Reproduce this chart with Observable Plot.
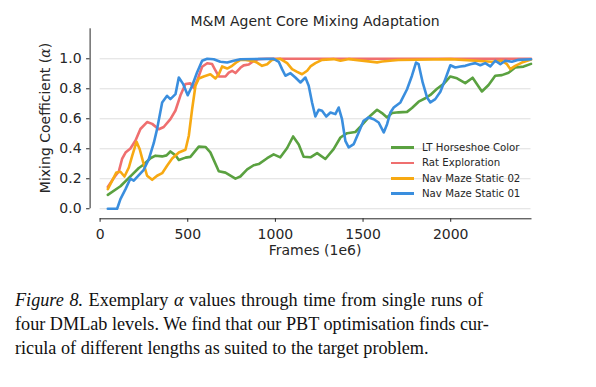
<!DOCTYPE html>
<html>
<head>
<meta charset="utf-8">
<script src="https://cdn.jsdelivr.net/npm/d3@7"></script>
<script src="https://cdn.jsdelivr.net/npm/@observablehq/plot@0.6"></script>
<style>
  html, body { margin: 0; padding: 0; background: #fff; }
  #wrap { position: relative; width: 596px; height: 387px; overflow: hidden; background: #fff; font-family: "DejaVu Sans", sans-serif; color: #262626; }
  #chart { position: absolute; left: 0; top: 0; }
  .abs { position: absolute; white-space: nowrap; }
  #title { left: 99.6px; width: 431px; top: 13px; text-align: center; font-size: 14px; line-height: 16px; }
  #xlabel { left: 99.6px; width: 431px; top: 242px; text-align: center; font-size: 14px; line-height: 16px; }
  #ylabel { left: -55px; width: 200px; top: 110.3px; text-align: center; font-size: 14px; line-height: 16px; transform: rotate(-90deg); transform-origin: 100px 8px; }
  #legend { left: 391px; top: 140px; font-size: 10.2px; }
  .row { height: 15.3px; display: flex; align-items: center; }
  .sw { width: 23px; height: 2.6px; margin-right: 8px; }
  #caption { left: 15px; top: 288px; font-family: "Liberation Serif", "Times New Roman", serif; font-size: 18.2px; color: #111; }
  .cl { line-height: 24px; text-align: justify; text-align-last: justify; }
</style>
</head>
<body>
<div id="wrap">
  <div id="chart"></div>
  <div id="title" class="abs"></div>
  <div id="xlabel" class="abs"></div>
  <div id="ylabel" class="abs"></div>
  <div id="legend" class="abs"></div>
  <div id="caption" class="abs"></div>
</div>
<script>
// ---------- data ----------
const seriesNames = ["LT Horseshoe Color", "Rat Exploration", "Nav Maze Static 02", "Nav Maze Static 01"];
const palette = ["#5aa140", "#ef6f6f", "#f7a912", "#3a8ede"];

const horseshoeFrames = [44,116,183,221,249,287,316,354,379,401,430,449,487,515,563,601,629,677,715,772,800,839,876,905,953,990,1028,1067,1101,1133,1161,1200,1238,1285,1332,1371,1409,1456,1485,1532,1580,1608,1637,1665,1703,1751,1779,1817,1855,1884,1922,1960,1998,2036,2083,2125,2178,2216,2254,2292,2330,2368,2416,2458];
const horseshoeAlpha  = [0.093,0.150,0.228,0.272,0.295,0.337,0.354,0.349,0.356,0.382,0.356,0.325,0.341,0.346,0.414,0.412,0.376,0.250,0.241,0.201,0.215,0.262,0.290,0.298,0.337,0.363,0.343,0.405,0.482,0.428,0.347,0.343,0.371,0.332,0.398,0.475,0.504,0.512,0.547,0.610,0.660,0.638,0.609,0.638,0.643,0.646,0.672,0.714,0.737,0.759,0.800,0.833,0.882,0.870,0.838,0.874,0.782,0.825,0.887,0.891,0.907,0.942,0.948,0.966];

const ratFrames = [44,78,107,126,145,173,202,230,268,297,335,363,401,430,458,487,515,534,553,582,611,639,658,677,715,734,753,772,800,819,848,876,905,950,1200,1500,1800,2100,2458];
const ratAlpha  = [0.145,0.205,0.250,0.335,0.375,0.402,0.455,0.532,0.578,0.566,0.530,0.545,0.598,0.655,0.755,0.832,0.836,0.806,0.853,0.947,0.970,0.965,0.922,0.882,0.882,0.908,0.920,0.905,0.940,0.956,0.962,0.986,0.998,1.0,1.0,1.0,1.0,1.0,1.0];

const maze02Frames = [44,69,93,116,139,164,183,208,226,246,268,297,325,354,382,411,449,487,506,525,544,563,591,629,658,677,696,725,753,782,800,829,877,895,924,953,981,1028,1067,1095,1124,1152,1181,1200,1228,1266,1332,1371,1420,1580,1608,1700,2000,2235,2292,2321,2340,2368,2406,2458];
const maze02Alpha  = [0.131,0.187,0.242,0.247,0.215,0.275,0.353,0.447,0.397,0.309,0.220,0.193,0.220,0.237,0.287,0.335,0.375,0.393,0.487,0.664,0.820,0.869,0.882,0.897,0.869,0.897,0.949,0.935,0.953,0.980,0.993,0.993,0.984,0.975,0.953,0.964,0.993,1.0,0.971,0.931,0.913,0.897,0.920,0.949,0.971,0.993,0.998,0.987,0.998,0.976,0.982,0.992,0.998,0.980,0.987,0.964,0.931,0.953,0.975,0.995];

const maze01Frames = [44,97,116,145,173,192,221,249,278,306,325,354,382,401,430,449,474,500,525,553,582,611,648,686,725,762,800,990,1019,1038,1057,1086,1114,1143,1171,1190,1209,1228,1247,1266,1290,1314,1342,1361,1380,1399,1418,1447,1475,1503,1532,1561,1589,1618,1637,1656,1675,1713,1751,1779,1802,1817,1840,1865,1884,1912,1941,1969,1998,2026,2055,2083,2112,2140,2169,2197,2226,2254,2283,2311,2349,2387,2458];
const maze01Alpha  = [0.0,0.0,0.064,0.131,0.202,0.187,0.224,0.260,0.331,0.437,0.531,0.709,0.753,0.731,0.764,0.875,0.831,0.757,0.820,0.909,0.987,1.0,0.997,0.980,0.975,0.987,0.997,1.0,0.980,0.931,0.887,0.904,0.875,0.842,0.875,0.820,0.709,0.615,0.660,0.653,0.615,0.642,0.631,0.675,0.597,0.453,0.409,0.431,0.509,0.587,0.609,0.597,0.575,0.509,0.564,0.642,0.675,0.709,0.797,0.887,0.975,0.964,0.842,0.742,0.709,0.731,0.780,0.864,0.957,0.942,0.949,0.953,0.964,0.971,0.957,0.971,0.949,0.987,0.964,0.987,0.980,0.993,0.997];

const xTicks = [0, 500, 1000, 1500, 2000];
const yTicks = [0.0, 0.2, 0.4, 0.6, 0.8, 1.0];
const xDomain = [0, 2458];
const yDomain = [-0.067, 1.2];
const ySpine = [{x: 0, y1: 0, y2: 1.2}];

const titleText = "M&M Agent Core Mixing Adaptation";
const xLabelText = "Frames (1e6)";
const yLabelHTML = "Mixing Coefficient (<i style=\"font-family:'DejaVu Serif',serif\">α</i>)";
const captionLines = [
  "<i>Figure 8.</i> Exemplary <i>α</i> values through time from single runs of",
  "four DMLab levels. We find that our PBT optimisation finds cur-",
  "ricula of different lengths as suited to the target problem."
];
const captionWidths = [468, 455, null];

// ---------- build ----------
const seriesX = [horseshoeFrames, ratFrames, maze02Frames, maze01Frames];
const seriesY = [horseshoeAlpha, ratAlpha, maze02Alpha, maze01Alpha];
const tables = seriesX.map((xs, i) => xs.map((f, j) => ({frame: f, alpha: seriesY[i][j], series: seriesNames[i]})));

const chart = Plot.plot({
  width: 596,
  height: 270,
  marginLeft: 99.6,
  marginRight: 65.5,
  marginTop: 28.3,
  marginBottom: 51.7,
  style: {fontFamily: "DejaVu Sans, sans-serif", color: "#262626", background: "transparent", overflow: "visible"},
  x: {domain: xDomain},
  y: {domain: yDomain},
  color: {domain: seriesNames, range: palette},
  marks: [
    Plot.gridY(yTicks, {stroke: "#dedede", strokeOpacity: 1, strokeWidth: 1}),
    Plot.frame({anchor: "bottom", stroke: "#262626", strokeWidth: 1}),
    Plot.ruleX(ySpine, {x: "x", y1: "y1", y2: "y2", dx: -10, stroke: "#262626", strokeWidth: 1}),
    Plot.axisY(yTicks, {dx: -10, tickSize: 3.5, tickPadding: 5, tickFormat: d3.format(".1f"), fontSize: 14, label: null}),
    Plot.axisX(xTicks, {tickSize: 3.5, tickPadding: 7, tickFormat: d3.format("d"), fontSize: 14, label: null}),
    ...tables.map(t => Plot.line(t, {x: "frame", y: "alpha", stroke: "series", strokeWidth: 2.6, strokeLinejoin: "round", strokeLinecap: "round"}))
  ]
});
document.getElementById("chart").appendChild(chart);

document.getElementById("title").textContent = titleText;
document.getElementById("xlabel").textContent = xLabelText;
document.getElementById("ylabel").innerHTML = yLabelHTML;

const legend = document.getElementById("legend");
seriesNames.forEach((name, i) => {
  const row = document.createElement("div");
  row.className = "row";
  const sw = document.createElement("div");
  sw.className = "sw";
  sw.style.background = palette[i];
  const label = document.createElement("span");
  label.textContent = name;
  row.appendChild(sw);
  row.appendChild(label);
  legend.appendChild(row);
});

const cap = document.getElementById("caption");
captionLines.forEach((html, i) => {
  const d = document.createElement("div");
  d.className = captionWidths[i] ? "cl" : "";
  d.style.lineHeight = "24px";
  if (captionWidths[i]) d.style.width = captionWidths[i] + "px";
  d.innerHTML = html;
  cap.appendChild(d);
});
</script>
</body>
</html>
